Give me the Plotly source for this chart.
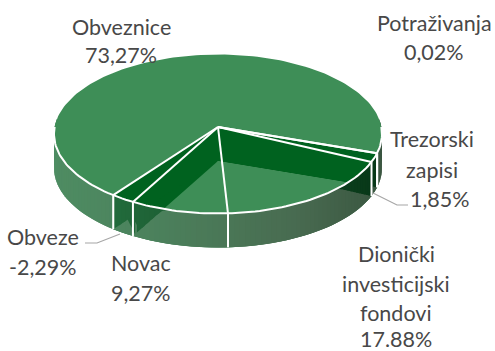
import math
import plotly.graph_objects as go

categories = ["Obveznice", "Potraživanja", "Trezorski zapisi", "Dionički investicijski fondovi", "Novac", "Obveze"]
values = [73.27, 0.02, 1.85, 17.88, 9.27, -2.29]
value_labels = ["73,27%", "0,02%", "1,85%", "17.88%", "9,27%", "-2,29%"]
label_lines = [
    ["Obveznice", "73,27%"],
    ["Potraživanja", "0,02%"],
    ["Trezorski", "zapisi", "1,85%"],
    ["Dionički", "investicijski", "fondovi", "17.88%"],
    ["Novac", "9,27%"],
    ["Obveze", "-2,29%"],
]
label_pos = [
    [(121, 27), (121, 55)],
    [(434, 23), (434, 52)],
    [(432, 139), (432, 170), (440, 199)],
    [(396, 254), (396, 284), (396, 313), (396, 339)],
    [(141, 263), (141, 293)],
    [(43, 237), (43, 267)],
]

CX, CY, RX, RY, TILT, DEPTH, START = 218, 134, 164, 79.5, 0.088, 34, 216.6
TOP = "#3e8e57"
DARK = "#00621f"


def rim(phi):
    p = math.radians(phi)
    u, v = math.sin(p), math.cos(p)
    den = 1 + TILT * v
    return (CX + RX * u * math.sqrt(1 - TILT ** 2) / den, CY - RY * (v + TILT) / den)


APEX = (CX, CY - RY * TILT)
total = sum(abs(v) for v in values)
edges = [START]
for v in values:
    edges.append(edges[-1] + abs(v) / total * 360)
hollow = [e % 360 for e in edges[2:7]]


def down(p):
    return (p[0], p[1] + DEPTH)


def lerp(x, table):
    if x <= table[0][0]:
        return table[0][1]
    for (a, ca), (b, cb) in zip(table, table[1:]):
        if x <= b:
            t = (x - a) / (b - a)
            return tuple(ca[i] + (cb[i] - ca[i]) * t for i in range(3))
    return table[-1][1]


WALL = [(54, (78, 140, 98)), (130, (76, 132, 94)), (230, (74, 118, 86)), (300, (72, 106, 80)), (382, (58, 86, 64))]
THRU = [(110, (34, 108, 60)), (218, (25, 85, 45)), (372, (8, 56, 24))]


def rgb(c):
    return "rgb(%d,%d,%d)" % tuple(round(k) for k in c)


fig = go.Figure()


def poly(pts, color, line=0):
    xs = [p[0] for p in pts] + [pts[0][0]]
    ys = [p[1] for p in pts] + [pts[0][1]]
    fig.add_trace(go.Scatter(x=xs, y=ys, mode="lines", fill="toself", fillcolor=color,
                             line=dict(color=color, width=line), hoverinfo="skip", showlegend=False))


def stroke(pts, color="#ffffff", width=2):
    fig.add_trace(go.Scatter(x=[p[0] for p in pts], y=[p[1] for p in pts], mode="lines",
                             line=dict(color=color, width=width), hoverinfo="skip", showlegend=False))


def arc(a, b, n=60):
    return [rim(a + (b - a) * i / n) for i in range(n + 1)]


floor = [down(APEX)] + [down(p) for p in arc(hollow[0], hollow[-1])]
poly(floor, TOP)
for e in hollow[:1] + [edges[1] % 360] + hollow[-2:]:
    r = rim(e)
    poly([APEX, r, down(r), down(APEX)], DARK)
poly([APEX] + arc(hollow[-2], hollow[-1], 10), DARK)
poly([APEX] + arc(edges[1] % 360, hollow[1], 10), DARK)

inner_lines = [down(rim(e)) for e in [edges[1] % 360, hollow[1], hollow[-2], hollow[-1]]]
A = down(APEX)


def line_y(x):
    best = None
    for q in inner_lines:
        lo, hi = sorted((q[0], A[0]))
        if lo - 0.01 <= x <= hi + 0.01:
            y = A[1] + (q[1] - A[1]) * (x - A[0]) / (q[0] - A[0])
            best = y if best is None else max(best, y)
    return best


N = 110
STEP = (276 - 84) / N
for i in range(N):
    a = 84 + STEP * i
    b = a + STEP * 2 if i < N - 1 else a + STEP
    p, q = rim(a), rim(b)
    mx = (rim(a)[0] + rim(a + STEP)[0]) / 2
    poly([p, q, down(q), down(p)], rgb(lerp(mx, WALL)))
for i in range(N):
    a = 84 + STEP * i
    b = a + STEP * 1.6
    p, q = rim(a), rim(b)
    yp, yq = line_y(p[0]), line_y(q[0])
    if yp is not None and yq is not None:
        yp2, yq2 = min(yp, p[1] + DEPTH), min(yq, q[1] + DEPTH)
        if yp2 > p[1] or yq2 > q[1]:
            mx = (p[0] + q[0]) / 2
            poly([p, q, (q[0], max(yq2, q[1])), (p[0], max(yp2, p[1]))], rgb(lerp(mx, THRU)))

poly([APEX] + arc(edges[0], edges[1], 140), TOP)

stroke(arc(90, 270, 120), width=2)
for e in edges[:6]:
    r = rim(e % 360)
    stroke([APEX, r], width=2)
    if 90 < e % 360 < 270:
        stroke([r, down(r)], width=2)

stroke([(85, 243), (97, 243), (120, 234)], "#a6a6a6", 1.2)
stroke([(373, 193), (397, 205), (408, 205)], "#a6a6a6", 1.2)

annotations = []
for lines, pos in zip(label_lines, label_pos):
    for text, (x, y) in zip(lines, pos):
        annotations.append(dict(x=x, y=y, text=text, showarrow=False, xref="x", yref="y",
                                xanchor="center", yanchor="middle",
                                font=dict(family="Lato", size=21.5, color="#484848")))

fig.update_layout(
    width=495, height=351, margin=dict(l=0, r=0, t=0, b=0),
    paper_bgcolor="white", plot_bgcolor="white", showlegend=False,
    xaxis=dict(range=[0, 495], visible=False, fixedrange=True),
    yaxis=dict(range=[351, 0], visible=False, fixedrange=True),
    annotations=annotations,
)
fig.write_html("out.html", config={"displayModeBar": False},
               post_script="document.body.style.margin='0';")
